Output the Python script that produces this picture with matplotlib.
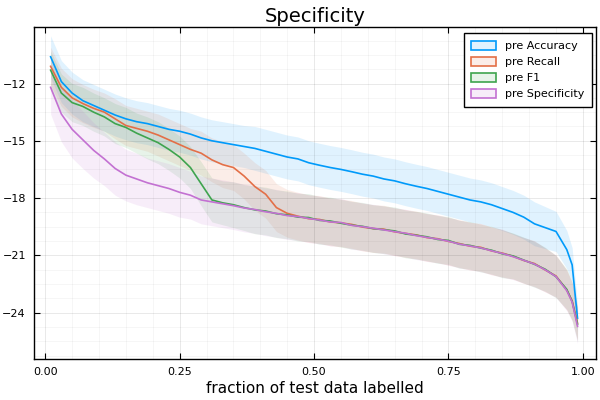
import numpy as np
import matplotlib
matplotlib.use("Agg")
import matplotlib.pyplot as plt
from matplotlib.patches import Patch

# ---------------------------------------------------------------- data
frac = list(np.round(np.arange(0.01, 0.98, 0.02), 2)) + [0.98, 0.99]

accuracy = [-10.6, -11.9, -12.5, -12.9, -13.15, -13.4, -13.65, -13.85, -14.0, -14.1,
            -14.25, -14.4, -14.5, -14.65, -14.85, -15.0, -15.1, -15.2, -15.3, -15.4,
            -15.55, -15.7, -15.85, -15.95, -16.15, -16.28, -16.4, -16.5, -16.62, -16.75,
            -16.85, -17.0, -17.1, -17.25, -17.38, -17.5, -17.65, -17.8, -17.95, -18.1,
            -18.2, -18.35, -18.55, -18.75, -19.0, -19.35, -19.55, -19.75, -20.7, -21.5,
            -24.3]
recall = [-11.1, -12.2, -12.75, -13.05, -13.3, -13.5, -13.85, -14.2, -14.35, -14.5,
          -14.7, -14.95, -15.2, -15.45, -15.65, -16.0, -16.25, -16.4, -16.85, -17.4,
          -17.8, -18.5, -18.8, -18.95, -19.08, -19.12, -19.25, -19.3, -19.38, -19.52,
          -19.6, -19.63, -19.77, -19.85, -19.93, -20.07, -20.13, -20.27, -20.38, -20.52,
          -20.58, -20.77, -20.88, -21.05, -21.27, -21.43, -21.77, -22.08, -22.82, -23.38,
          -24.55]
f1 = [-11.3, -12.5, -13.0, -13.2, -13.5, -13.75, -14.1, -14.3, -14.6, -14.85,
      -15.1, -15.45, -15.85, -16.4, -17.25, -18.1, -18.25, -18.35, -18.5, -18.62,
      -18.68, -18.82, -18.88, -19.0, -19.02, -19.17, -19.2, -19.32, -19.42, -19.48,
      -19.6, -19.66, -19.72, -19.88, -19.95, -20.03, -20.17, -20.22, -20.42, -20.48,
      -20.62, -20.73, -20.92, -21.03, -21.25, -21.47, -21.73, -22.12, -22.78, -23.42,
      -24.62]
specificity = [-12.2, -13.6, -14.4, -14.95, -15.5, -15.95, -16.45, -16.8, -17.0, -17.2,
               -17.35, -17.5, -17.7, -17.85, -18.1, -18.2, -18.3, -18.4, -18.52, -18.6,
               -18.72, -18.8, -18.92, -18.97, -19.07, -19.15, -19.25, -19.28, -19.43, -19.5,
               -19.58, -19.67, -19.76, -19.84, -19.97, -20.06, -20.15, -20.26, -20.41, -20.51,
               -20.61, -20.76, -20.9, -21.07, -21.26, -21.46, -21.76, -22.11, -22.85, -23.45,
               -24.72]

acc_std = [1.1, 1.1, 1.1, 1.1, 1.1, 1.1, 1.1, 1.1, 1.1, 1.1,
           1.1, 1.1, 1.1, 1.1, 1.1, 1.1, 1.1, 1.1, 1.1, 1.15,
           1.15, 1.15, 1.15, 1.15, 1.15, 1.15, 1.15, 1.15, 1.15, 1.15,
           1.15, 1.15, 1.15, 1.15, 1.15, 1.15, 1.15, 1.15, 1.15, 1.15,
           1.15, 1.15, 1.15, 1.15, 1.15, 1.15, 1.1, 1.05, 1.0, 0.9,
           0.7]
rec_std = [1.0, 1.0, 1.0, 1.0, 1.0, 1.0, 1.05, 1.05, 1.05, 1.05,
           1.1, 1.1, 1.1, 1.1, 1.15, 1.15, 1.2, 1.2, 1.2, 1.25,
           1.25, 1.25, 1.25, 1.25, 1.25, 1.25, 1.25, 1.25, 1.25, 1.25,
           1.25, 1.25, 1.25, 1.25, 1.25, 1.25, 1.25, 1.25, 1.25, 1.25,
           1.25, 1.25, 1.25, 1.2, 1.2, 1.2, 1.15, 1.1, 1.05, 1.0,
           0.9]
f1_std = [1.0, 1.0, 1.0, 1.0, 1.0, 1.0, 1.05, 1.05, 1.05, 1.1,
          1.1, 1.1, 1.1, 1.1, 1.15, 1.15, 1.15, 1.2, 1.2, 1.25,
          1.25, 1.25, 1.25, 1.25, 1.25, 1.25, 1.25, 1.25, 1.25, 1.25,
          1.25, 1.25, 1.25, 1.25, 1.25, 1.25, 1.25, 1.25, 1.25, 1.25,
          1.25, 1.25, 1.25, 1.2, 1.2, 1.2, 1.15, 1.1, 1.05, 1.0,
          0.9]
spec_std = [1.4, 1.45, 1.5, 1.5, 1.45, 1.4, 1.4, 1.35, 1.35, 1.3,
            1.3, 1.3, 1.3, 1.25, 1.25, 1.25, 1.25, 1.25, 1.25, 1.25,
            1.25, 1.25, 1.25, 1.25, 1.25, 1.25, 1.25, 1.25, 1.25, 1.25,
            1.25, 1.25, 1.25, 1.25, 1.25, 1.25, 1.25, 1.25, 1.25, 1.25,
            1.25, 1.25, 1.25, 1.2, 1.2, 1.2, 1.15, 1.1, 1.05, 1.0,
            0.9]

series = [("pre Accuracy", accuracy, acc_std, "#009AFA"),
          ("pre Recall", recall, rec_std, "#E36F47"),
          ("pre F1", f1, f1_std, "#3EA44E"),
          ("pre Specificity", specificity, spec_std, "#C371D2")]

# ---------------------------------------------------------------- plot
fig, ax = plt.subplots(figsize=(6, 4), dpi=100)
fig.subplots_adjust(left=0.057, right=0.993, top=0.932, bottom=0.103)

x = np.array(frac)
handles = []
for name, mean, std, col in series:
    m = np.array(mean)
    s = np.array(std)
    ax.fill_between(x, m - s, m + s, color=col, alpha=0.12, linewidth=0)
    ax.plot(x, m, color=col, lw=1.2)
    handles.append(Patch(facecolor=matplotlib.colors.to_rgba(col, 0.12),
                         edgecolor=col, linewidth=1.2, label=name))

ax.set_xlim(-0.0205, 1.024)
ax.set_ylim(-26.42, -9.05)
ax.set_xticks([0.0, 0.25, 0.5, 0.75, 1.0])
ax.set_xticklabels(["0.00", "0.25", "0.50", "0.75", "1.00"])
ax.set_yticks([-12, -15, -18, -21, -24])
ax.set_yticklabels(["\u221212", "\u221215", "\u221218", "\u221221", "\u221224"])
ax.set_xticks(np.arange(0.0, 1.0001, 0.05), minor=True)
ax.set_yticks(np.arange(-26.25, -9.0, 0.75), minor=True)

ax.grid(True, which="major", color="black", alpha=0.1, lw=0.6)
ax.grid(True, which="minor", color="black", alpha=0.05, lw=0.5)
ax.tick_params(which="major", direction="in", length=4, width=0.8,
               top=True, right=True, labelsize=8, pad=6)
ax.tick_params(which="minor", length=0)
for side in ax.spines:
    ax.spines[side].set_linewidth(1.0)

ax.set_title("Specificity", fontsize=14, pad=4)
ax.set_xlabel("fraction of test data labelled", fontsize=11, labelpad=3)

leg = ax.legend(handles=handles, loc="upper right", fontsize=8,
                fancybox=False, framealpha=1, edgecolor="black",
                handlelength=2.2, handleheight=0.9, borderpad=0.7,
                labelspacing=0.5, borderaxespad=0,
                bbox_to_anchor=(0.993, 0.982))
leg.get_frame().set_linewidth(1.0)

fig.savefig("out.png", dpi=100)
